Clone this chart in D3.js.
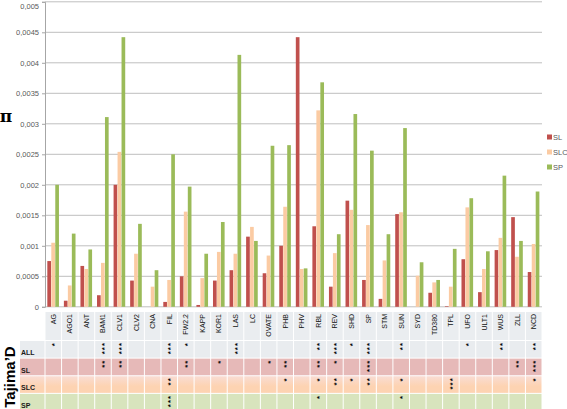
<!DOCTYPE html>
<html><head><meta charset="utf-8">
<script src="https://cdn.jsdelivr.net/npm/d3@7"></script>
<style>body{margin:0;background:#fff}svg{display:block;font-family:"Liberation Sans",Arial,sans-serif}</style>
</head><body><div class="box"></div>
<script>
// genes, pi values per population, Tajima's D significance
const genes=['AG','AGO1','ANT','BAM1','CLV1','CLV2','CNA','FIL','FW2.2','KAPP','KOR1','LAS','LC','OVATE','PHB','PHV','RBL','REV','SHD','SP','STM','SUN','SYD','TD380','TPL','UFO','ULT1','WUS','ZLL','NCD'];
const SL=[0.00075,0.0001,0.00067,0.00019,0.002,0.00043,0,0.00008,0.0005,0.00003,0.00043,0.0006,0.00115,0.00055,0.001,0.00442,0.00132,0.00033,0.00174,0.00044,0.00013,0.00152,0,0.00023,0.00001,0.00078,0.00024,0.00093,0.00147,0.00057];
const SLC=[0.00105,0.00035,0.00062,0.00072,0.00254,0.00087,0.00033,0.00044,0.00156,0.00047,0.0009,0.00087,0.00131,0.00084,0.00164,0.00062,0.00322,0.00088,0.00159,0.00134,0.00076,0.00155,0.00051,0.0004,0.00033,0.00163,0.00062,0.00113,0.00082,0.00103];
const SP=[0.002,0.0012,0.00094,0.00311,0.00442,0.00136,0.0006,0.0025,0.00197,0.00087,0.00139,0.00413,0.00108,0.00264,0.00265,0.00063,0.00368,0.00119,0.00316,0.00256,0.00119,0.00293,0.00073,0.00044,0.00095,0.00178,0.00091,0.00215,0.00108,0.00189];
const series=['SL','SLC','SP'];
const yTicks=[0,0.0005,0.001,0.0015,0.002,0.0025,0.003,0.0035,0.004,0.0045,0.005];
const rows=['ALL','SL','SLC','SP'];
const sigALL=['*','','','***','***','','','***','*','','','***','','','','','**','***','*','***','','**','','','','*','','**','','**'];
const sigSL=['','','','**','**','','','','**','','*','','','*','**','','**','*','','***','','','','','','','','','**','***'];
const sigSLC=['','','','','','','','**','','','','','','','*','','*','**','*','**','','*','','','***','','','','','*'];
const sigSP=['','','','','','','','***','','','','','','','','','*','','','','','*','','','','','','','',''];

const colors={SL:'#c0504d',SLC:'#fbcba3',SP:'#9bbb59'};
const rowFill={ALL:'#e9ecef',SL:'#e6b9b8',SLC:'url(#slcGrad)',SP:'#d8e4bd'};
const W=567,H=409;
const svg=d3.select('.box').append('svg').attr('width',W).attr('height',H);
const defs=svg.append('defs');
const gr=defs.append('linearGradient').attr('id','slcGrad').attr('x1',0).attr('y1',0).attr('x2',0).attr('y2',1);
gr.append('stop').attr('offset','0%').attr('stop-color','#f9dcd3');
gr.append('stop').attr('offset','60%').attr('stop-color','#fdd3b2');
gr.append('stop').attr('offset','100%').attr('stop-color','#fdd3b2');

const pLeft=45,pRight=542,pTop=1.8,pBottom=306.8;
const x0=d3.scaleBand().domain(genes).range([pLeft,pRight]).paddingInner(0.28).paddingOuter(0.14);
const x1=d3.scaleBand().domain(series).range([0,x0.bandwidth()]);
const y=d3.scaleLinear().domain([0,0.005]).range([pBottom,pTop]);
const fmt=v=>String(+v.toFixed(4)).replace('.',',');

// grid
svg.append('g').selectAll('line').data(yTicks).enter().append('line')
  .attr('x1',pLeft).attr('x2',pRight).attr('y1',d=>y(d)).attr('y2',d=>y(d))
  .attr('stroke','#bfbfbf').attr('stroke-width',1);
const gY=svg.append('g').attr('transform',`translate(${pLeft},0)`);
gY.call(d3.axisLeft(y).tickValues(yTicks).tickFormat(fmt).tickSize(3).tickPadding(3));
gY.select('.domain').attr('stroke','#a6a6a6');
gY.selectAll('.tick line').attr('stroke','#a6a6a6');
gY.selectAll('text').attr('font-size',7.5).attr('fill','#595959');
// top label would be clipped by the window edge
gY.selectAll('.tick text').filter(d=>d===0.005).attr('dy','0.9em');

// bars
const data=genes.map((g,i)=>({gene:g,vals:[{s:'SL',v:SL[i]},{s:'SLC',v:SLC[i]},{s:'SP',v:SP[i]}]}));
svg.append('g').selectAll('g').data(data).enter().append('g')
  .attr('transform',d=>`translate(${x0(d.gene)},0)`)
  .selectAll('rect').data(d=>d.vals).enter().append('rect')
  .attr('x',d=>x1(d.s)).attr('width',x1.bandwidth()-0.3)
  .attr('y',d=>y(d.v)).attr('height',d=>pBottom-y(d.v))
  .attr('fill',d=>colors[d.s]);

// legend
const lg=svg.append('g');
series.forEach((s,i)=>{
  lg.append('rect').attr('x',547).attr('y',134.5+i*15).attr('width',5).attr('height',5).attr('fill',colors[s]);
  lg.append('text').attr('x',553).attr('y',140+i*15).attr('font-size',7.5).attr('fill','#595959').text(s);
});

// pi label
svg.append('text').attr('x',6).attr('y',122).attr('text-anchor','middle').attr('font-size',17)
  .attr('font-weight','bold').attr('font-family','"DejaVu Serif",serif').text('π');

// table
const xt=d3.scaleBand().domain(genes).range([pLeft,pRight]);
const yr=d3.scaleBand().domain(rows).range([340.5,411]);
const tbl=svg.append('g');
tbl.selectAll('.hd').data(genes).enter().append('rect').attr('class','hd')
  .attr('x',d=>xt(d)+0.5).attr('width',xt.bandwidth()-1).attr('y',312).attr('height',28)
  .attr('fill','#eaedf0');
tbl.selectAll('.gl').data(genes).enter().append('text').attr('class','gl')
  .attr('transform',d=>`translate(${xt(d)+xt.bandwidth()/2+2.5},314) rotate(-90)`)
  .attr('text-anchor','end').attr('font-size',7).attr('fill','#111').text(d=>d);
const sigs={ALL:sigALL,SL:sigSL,SLC:sigSLC,SP:sigSP};
rows.forEach(r=>{
  tbl.append('rect').attr('x',20).attr('width',24.5).attr('y',yr(r)+0.5).attr('height',yr.bandwidth()-1).attr('fill',rowFill[r]);
  tbl.append('text').attr('x',21).attr('y',yr(r)+yr.bandwidth()-3).attr('font-size',7).attr('font-weight','bold')
    .attr('fill','#1a1a1a').text(r);
  tbl.selectAll('.c'+r).data(genes).enter().append('rect')
    .attr('x',d=>xt(d)+0.5).attr('width',xt.bandwidth()-1).attr('y',yr(r)+0.5).attr('height',yr.bandwidth()-1)
    .attr('fill',rowFill[r]);
  tbl.selectAll('.s'+r).data(genes).enter().append('text')
    .attr('transform',d=>`translate(${xt(d)+xt.bandwidth()/2+4},${yr(r)+1.5}) rotate(-90)`)
    .attr('text-anchor','end').attr('font-size',8).attr('font-weight','bold').attr('letter-spacing',1)
    .attr('fill','#000').text((d,i)=>sigs[r][i]);
});
svg.append('text').attr('transform','translate(15,377) rotate(-90)').attr('text-anchor','middle')
  .attr('font-size',15).attr('font-weight','bold').attr('fill','#000').text('Tajima’D');
</script>
</body></html>
